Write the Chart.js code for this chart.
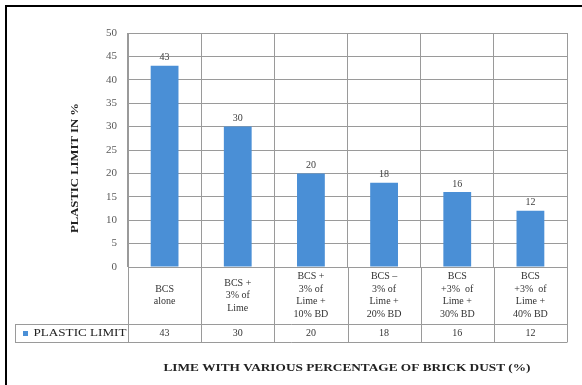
<!DOCTYPE html>
<html>
<head>
<meta charset="utf-8">
<script src="https://cdn.jsdelivr.net/npm/chart.js@4"></script>
<style>
html,body{margin:0;padding:0;background:#fff;}
#c{display:block;}
</style>
</head>
<body>
<canvas id="c" width="582" height="385"></canvas>
<script>
const categories = [
  ["BCS", "alone"],
  ["BCS +", "3% of", "Lime"],
  ["BCS +", "3% of", "Lime +", "10% BD"],
  ["BCS –", "3% of", "Lime +", "20% BD"],
  ["BCS", "+3%  of", "Lime +", "30% BD"],
  ["BCS", "+3%  of", "Lime +", "40% BD"]
];
const plasticLimit = [43, 30, 20, 18, 16, 12];
const seriesName = "PLASTIC LIMIT";
const yTitle = "PLASTIC LIMIT IN %";
const xTitle = "LIME WITH VARIOUS PERCENTAGE OF BRICK DUST (%)";
const yMin = 0, yMax = 50, yStep = 5;

const SERIF = "'Liberation Serif','Times New Roman',serif";
const BAR_COLOR = '#4a8fd6';
const GRID = '#9a9a9a';

function stretchedText(ctx, text, cx, cy, targetW, rot) {
  const w = ctx.measureText(text).width;
  ctx.save();
  ctx.translate(cx, cy);
  if (rot) ctx.rotate(rot);
  ctx.scale(targetW / w, 1);
  ctx.textAlign = 'center';
  ctx.textBaseline = 'middle';
  ctx.fillText(text, 0, 0);
  ctx.restore();
}

const tablePlugin = {
  id: 'tablePlugin',
  afterDraw(chart) {
    const ctx = chart.ctx;
    const x = chart.scales.x;
    const ca = chart.chartArea;
    const row1Bottom = 324, row2Bottom = 342, legendLeft = 15;
    ctx.save();
    ctx.fillStyle = '#000';
    ctx.fillRect(5, 5, 582, 2);
    ctx.fillRect(5, 5, 2, 385);
    ctx.strokeStyle = GRID;
    ctx.lineWidth = 1;
    const n = categories.length;
    const bounds = [];
    for (let i = 0; i <= n; i++) {
      let px;
      if (i === 0) px = ca.left;
      else if (i === n) px = ca.right;
      else px = (x.getPixelForValue(i - 1) + x.getPixelForValue(i)) / 2;
      bounds.push(Math.round(px) + 0.5);
    }
    ctx.beginPath();
    bounds.forEach(b => { ctx.moveTo(b, ca.bottom); ctx.lineTo(b, row2Bottom); });
    ctx.moveTo(legendLeft + 0.5, row1Bottom); ctx.lineTo(legendLeft + 0.5, row2Bottom);
    ctx.moveTo(legendLeft, row1Bottom + 0.5); ctx.lineTo(bounds[n], row1Bottom + 0.5);
    ctx.moveTo(legendLeft, row2Bottom + 0.5); ctx.lineTo(bounds[n], row2Bottom + 0.5);
    ctx.stroke();
    ctx.fillStyle = '#333';
    ctx.textAlign = 'center';
    ctx.textBaseline = 'middle';
    ctx.font = '10px ' + SERIF;
    const lh = 12.5;
    const midRow = (ca.bottom + row1Bottom) / 2;
    categories.forEach((lines, i) => {
      const cx = x.getPixelForValue(i);
      const start = midRow - (lines.length - 1) * lh / 2;
      lines.forEach((t, k) => ctx.fillText(t, cx, start + k * lh));
      ctx.fillText(String(plasticLimit[i]), cx, (row1Bottom + row2Bottom) / 2 + 0.5);
    });
    ctx.fillStyle = BAR_COLOR;
    ctx.fillRect(23, 331, 5, 5);
    ctx.fillStyle = '#222';
    ctx.font = '11px ' + SERIF;
    stretchedText(ctx, seriesName, 80, 333.5, 93, 0);
    ctx.textAlign = 'center';
    ctx.textBaseline = 'bottom';
    ctx.font = '10px ' + SERIF;
    ctx.fillStyle = '#404040';
    chart.getDatasetMeta(0).data.forEach((bar, i) => {
      ctx.fillText(String(plasticLimit[i]), bar.x, bar.y - 3);
    });
    ctx.fillStyle = '#222';
    ctx.font = 'bold 10px ' + SERIF;
    stretchedText(ctx, yTitle, 75, 168, 130, -Math.PI / 2);
    ctx.font = 'bold 11px ' + SERIF;
    stretchedText(ctx, xTitle, 347, 368, 367, 0);
    ctx.restore();
  }
};

new Chart(document.getElementById('c'), {
  type: 'bar',
  data: {
    labels: categories,
    datasets: [{
      label: seriesName,
      data: plasticLimit,
      backgroundColor: BAR_COLOR,
      borderWidth: 0,
      categoryPercentage: 1.0,
      barPercentage: 0.38
    }]
  },
  options: {
    responsive: false,
    animation: false,
    devicePixelRatio: 1,
    layout: { padding: { left: 60, right: 15, top: 33, bottom: 0 } },
    plugins: { legend: { display: false }, tooltip: { enabled: false } },
    scales: {
      x: {
        grid: { offset: true, color: GRID, drawTicks: false },
        border: { color: GRID },
        ticks: { display: false },
        afterFit(s) { s.height = 118; }
      },
      y: {
        min: yMin, max: yMax,
        grid: { color: GRID, drawTicks: false },
        border: { color: GRID },
        ticks: { stepSize: yStep, color: '#595959', font: { family: SERIF, size: 11 }, padding: 11 },
        afterFit(s) { s.width = 68; }
      }
    }
  },
  plugins: [tablePlugin]
});
</script>
</body>
</html>
